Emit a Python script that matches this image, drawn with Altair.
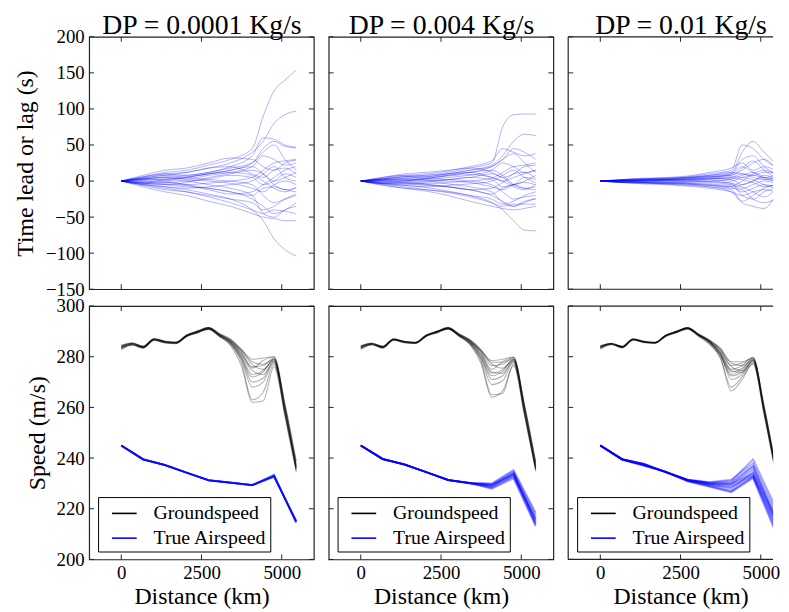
import altair as alt
import pandas as pd

# ---------------- data ----------------
TITLES = ["DP = 0.0001 Kg/s", "DP = 0.004 Kg/s", "DP = 0.01 Kg/s"]
LEGEND_LABELS = ["Groundspeed", "True Airspeed"]
X_TICKS = [0, 2500, 5000]
LAG_TICKS = [-150, -100, -50, 0, 50, 100, 150, 200]
SPEED_TICKS = [200, 220, 240, 260, 280, 300]

LAG_DIST = [0, 680, 1360, 2040, 2720, 3400, 4080, 4420, 4760, 5100, 5450]
GS_DIST = [0, 340, 680, 1020, 1360, 1700, 2040, 2380, 2720, 3060, 3400, 3740, 4080, 4420, 4760, 5100, 5450]
TAS_DIST = [0, 680, 1360, 2040, 2720, 3400, 4080, 4760, 5450]

# time lead / lag (s), one list per ensemble member
LAG_0001 = [
    [0, 6, 12, 15, 22, 30, 45, 90, 125, 140, 154],
    [0, 4, 8, 12, 18, 25, 40, 55, 80, 92, 97],
    [0, 3, 6, 8, 12, 20, 35, 60, 58, 50, 47],
    [0, -2, 2, 5, 10, 15, 25, 45, 55, 48, 46],
    [0, 8, 15, 18, 25, 32, 30, 20, 15, 25, 29],
    [0, 2, 5, 3, 8, 12, 20, 35, 30, 22, 25],
    [0, -3, -5, -2, 5, 10, 15, 10, 0, 5, 12],
    [0, 5, 10, 12, 18, 20, 10, 5, 15, 18, 10],
    [0, 0, -2, 0, 3, 8, 5, -5, 0, 10, 5],
    [0, -5, -8, -10, -8, -5, 0, 10, 20, 5, 0],
    [0, 3, 5, 2, 0, -3, -10, -15, -5, 0, -5],
    [0, -2, 0, 5, 10, 15, 20, 10, -5, -12, -10],
    [0, 2, 0, -5, -10, -15, -20, -10, -8, -12, -15],
    [0, -6, -12, -15, -20, -25, -30, -40, -35, -25, -18],
    [0, 4, 8, 5, 2, 0, -5, -20, -30, -25, -20],
    [0, -3, -5, -8, -10, -15, -25, -35, -45, -40, -30],
    [0, -5, -10, -15, -22, -30, -40, -45, -40, -42, -45],
    [0, -8, -15, -20, -28, -35, -45, -50, -52, -55, -55],
    [0, -4, -8, -12, -18, -25, -40, -55, -80, -95, -104],
    [0, 6, 10, 8, 12, 18, 25, 40, 50, 30, 15],
    [0, -4, -2, -5, -3, 0, 5, 15, 25, 28, 30],
    [0, 3, 2, 0, -5, -10, -20, -45, -50, -40, -35],
    [0, 1, 3, 6, 10, 12, 8, 0, -10, -15, -8],
    [0, -1, -4, -6, -12, -18, -15, -5, 5, 15, 20],
]
LAG_004 = [
    [0, 3, 6, 8, 12, 18, 25, 75, 92, 93, 93],
    [0, 2, 4, 6, 10, 15, 22, 35, 55, 65, 63],
    [0, 4, 8, 10, 14, 20, 28, 45, 40, 35, 38],
    [0, -2, 0, 3, 8, 12, 20, 30, 45, 40, 30],
    [0, 5, 10, 12, 15, 18, 12, 5, 10, 20, 22],
    [0, 1, 3, 2, 5, 8, 15, 25, 20, 12, 15],
    [0, -3, -4, -2, 2, 5, 10, 5, -5, 0, 8],
    [0, 3, 6, 8, 10, 12, 5, 0, 10, 12, 4],
    [0, 0, -2, 0, 2, 5, 2, -8, -5, 5, 2],
    [0, -4, -6, -8, -6, -4, 0, 8, 15, 5, -2],
    [0, 2, 3, 1, 0, -2, -8, -12, -5, -2, -5],
    [0, -1, 0, 4, 8, 12, 15, 8, -5, -10, -8],
    [0, 1, 0, -4, -8, -12, -18, -10, -5, -10, -12],
    [0, -5, -10, -12, -15, -20, -25, -32, -28, -20, -15],
    [0, 3, 6, 4, 2, 0, -5, -15, -25, -22, -20],
    [0, -3, -4, -6, -8, -12, -20, -28, -35, -30, -24],
    [0, -4, -8, -12, -16, -22, -30, -35, -32, -32, -32],
    [0, -6, -10, -14, -20, -28, -35, -38, -40, -38, -35],
    [0, -3, -6, -9, -14, -20, -30, -40, -55, -68, -69],
    [0, 5, 8, 6, 10, 15, 20, 30, 38, 25, 12],
    [0, -3, -2, -4, -2, 0, 4, 12, 20, 22, 25],
    [0, 2, 1, 0, -4, -8, -15, -30, -35, -28, -25],
    [0, 1, 2, 4, 7, 9, 5, 0, -8, -12, -4],
    [0, -1, -3, -5, -8, -12, -10, -2, 5, 10, 15],
]
LAG_01 = [
    [0, 2, 3, 4, 6, 10, 15, 50, 45, 30, 20],
    [0, 1, 2, 3, 5, 8, 12, 40, 55, 40, 25],
    [0, -1, 0, 1, 3, 5, 10, 30, 35, 20, 10],
    [0, 2, 4, 5, 7, 12, 18, 25, 15, 20, 15],
    [0, 0, 1, 2, 4, 6, 8, 15, 25, 30, 18],
    [0, -2, -3, -2, 0, 3, 5, 10, 5, 2, 5],
    [0, 1, 2, 2, 3, 4, 2, -5, 0, 8, 3],
    [0, -1, -2, -3, -2, 0, 3, 8, 12, 5, 0],
    [0, 1, 1, 0, -1, -2, -5, -10, -5, 0, -3],
    [0, -2, -3, -4, -5, -6, -8, -15, -10, -5, -8],
    [0, 2, 3, 2, 1, 0, -3, -20, -25, -15, -10],
    [0, -1, -2, -4, -6, -8, -12, -28, -20, -10, -5],
    [0, 0, -1, -2, -4, -8, -15, -30, -35, -38, -20],
    [0, -2, -4, -5, -7, -10, -15, -20, -15, -12, -15],
    [0, 1, 0, -1, -3, -5, -8, -5, 0, 5, 2],
    [0, -1, -1, 0, 2, 4, 6, 5, 2, -5, -10],
    [0, 1, 2, 3, 4, 7, 10, 20, 12, 5, 8],
    [0, -1, -2, -3, -4, -6, -10, -12, -25, -30, -25],
    [0, 2, 3, 4, 5, 8, 12, 10, 8, 12, 12],
    [0, -2, -2, -3, -3, -4, -6, 0, 10, 15, 10],
    [0, 1, 1, 2, 2, 3, 4, 2, -2, -8, -5],
    [0, 0, 1, 1, 0, -1, -3, -8, -15, -22, -12],
    [0, -1, 0, 1, 2, 2, 0, 5, 8, 3, 0],
    [0, 1, 2, 3, 5, 6, 8, 18, 28, 15, 5],
]

# groundspeed (m/s)
GS_0001 = [
    [283.2, 284.6, 283.5, 286.5, 285.6, 285.2, 288.0, 289.5, 291.0, 288.2, 285.5, 280.5, 273.0, 274.5, 278.5, 258.5, 236.0],
    [284.2, 285.3, 284.0, 287.2, 286.0, 285.8, 288.6, 290.2, 291.6, 289.0, 286.5, 282.0, 276.0, 276.5, 279.5, 260.0, 237.5],
    [283.0, 284.8, 283.6, 286.6, 285.5, 285.3, 288.2, 289.6, 290.8, 288.0, 285.0, 278.0, 263.0, 266.0, 277.0, 257.0, 235.0],
    [284.5, 285.5, 284.2, 287.0, 286.2, 285.6, 288.5, 290.0, 291.5, 289.2, 287.0, 283.0, 278.0, 277.0, 279.0, 261.0, 238.5],
    [283.5, 284.9, 283.7, 286.9, 285.7, 285.4, 288.1, 289.7, 291.3, 288.6, 285.8, 280.0, 270.0, 271.5, 278.0, 258.0, 236.5],
    [283.8, 285.1, 283.9, 286.7, 285.9, 285.6, 288.4, 289.9, 291.1, 288.4, 286.0, 281.5, 275.5, 278.5, 280.0, 259.5, 235.5],
    [282.8, 284.5, 283.3, 286.4, 285.4, 285.1, 288.0, 289.4, 290.9, 288.0, 284.5, 276.5, 262.0, 262.5, 276.0, 256.5, 234.5],
    [284.0, 285.2, 284.1, 287.1, 286.1, 285.7, 288.5, 290.1, 291.4, 288.8, 286.3, 282.5, 277.0, 275.0, 278.8, 260.5, 237.0],
    [283.6, 285.0, 283.8, 286.8, 285.8, 285.5, 288.3, 289.8, 291.2, 288.5, 285.7, 279.5, 272.0, 274.0, 279.2, 258.8, 236.2],
    [283.4, 284.7, 283.6, 286.6, 285.6, 285.3, 288.2, 289.6, 291.0, 288.3, 285.2, 279.0, 268.0, 270.0, 277.5, 257.5, 235.8],
    [284.3, 285.4, 284.1, 287.0, 286.0, 285.7, 288.6, 290.0, 291.5, 288.9, 286.8, 282.8, 279.0, 279.5, 280.0, 261.5, 239.0],
    [283.9, 285.1, 283.9, 286.9, 285.9, 285.5, 288.4, 289.9, 291.3, 288.7, 286.1, 281.0, 274.5, 273.0, 278.2, 259.2, 236.8],
]
GS_004 = [
    [283.3, 284.8, 283.6, 286.7, 285.7, 285.4, 288.2, 289.7, 291.2, 288.4, 285.6, 280.8, 273.5, 274.8, 278.6, 258.6, 236.2],
    [284.0, 285.2, 284.0, 287.1, 286.0, 285.7, 288.5, 290.1, 291.6, 288.9, 286.4, 282.2, 276.5, 277.0, 279.6, 260.2, 237.8],
    [283.1, 284.7, 283.5, 286.5, 285.5, 285.2, 288.1, 289.5, 290.9, 288.1, 285.1, 278.5, 265.0, 265.5, 277.2, 257.2, 235.2],
    [284.3, 285.4, 284.1, 287.0, 286.1, 285.6, 288.5, 290.0, 291.4, 289.1, 286.8, 283.0, 277.8, 277.8, 279.2, 260.8, 238.2],
    [283.6, 285.0, 283.8, 286.8, 285.8, 285.5, 288.3, 289.8, 291.3, 288.6, 285.9, 280.2, 271.0, 272.5, 278.2, 258.2, 236.4],
    [283.8, 285.1, 283.9, 286.8, 285.9, 285.6, 288.4, 289.9, 291.1, 288.5, 286.1, 281.8, 275.0, 278.0, 279.8, 259.6, 235.6],
    [282.9, 284.6, 283.4, 286.5, 285.5, 285.2, 288.0, 289.5, 291.0, 288.1, 284.8, 277.5, 264.0, 266.5, 276.5, 256.8, 234.8],
    [284.1, 285.2, 284.0, 287.0, 286.0, 285.6, 288.5, 290.0, 291.4, 288.8, 286.2, 282.4, 277.2, 275.5, 278.9, 260.4, 237.2],
    [283.5, 284.9, 283.7, 286.7, 285.7, 285.4, 288.3, 289.8, 291.2, 288.5, 285.6, 279.8, 272.5, 274.2, 279.0, 258.9, 236.0],
    [283.4, 284.8, 283.6, 286.6, 285.6, 285.3, 288.2, 289.6, 291.0, 288.3, 285.3, 279.2, 269.0, 270.5, 277.8, 257.6, 235.5],
    [284.2, 285.3, 284.1, 286.9, 286.0, 285.7, 288.6, 290.0, 291.5, 288.9, 286.6, 282.6, 278.5, 279.0, 279.9, 261.2, 238.6],
    [283.9, 285.1, 283.9, 286.9, 285.9, 285.5, 288.4, 289.9, 291.3, 288.7, 286.0, 281.2, 274.0, 273.5, 278.4, 259.0, 236.6],
]
GS_01 = [
    [283.4, 284.9, 283.7, 286.7, 285.7, 285.4, 288.2, 289.7, 291.2, 288.5, 285.8, 281.0, 274.0, 275.5, 278.8, 258.8, 236.2],
    [284.0, 285.2, 284.0, 287.0, 286.0, 285.6, 288.5, 290.0, 291.5, 288.8, 286.3, 282.5, 276.5, 277.5, 279.6, 260.0, 237.0],
    [283.2, 284.8, 283.6, 286.6, 285.6, 285.3, 288.1, 289.6, 291.0, 288.2, 285.2, 279.5, 266.5, 271.0, 277.5, 257.8, 235.0],
    [284.2, 285.3, 284.1, 287.1, 286.1, 285.7, 288.5, 290.1, 291.4, 289.0, 286.6, 283.0, 277.5, 276.5, 279.2, 260.5, 237.5],
    [283.6, 285.0, 283.8, 286.8, 285.8, 285.5, 288.3, 289.8, 291.3, 288.6, 285.9, 280.5, 272.5, 274.0, 278.2, 258.5, 236.0],
    [283.8, 285.1, 283.9, 286.8, 285.9, 285.5, 288.4, 289.9, 291.2, 288.5, 286.0, 281.8, 275.0, 276.5, 279.8, 259.5, 235.5],
    [283.0, 284.7, 283.5, 286.5, 285.5, 285.2, 288.0, 289.5, 290.9, 288.1, 284.9, 279.8, 268.0, 272.0, 277.0, 257.2, 234.5],
    [284.1, 285.2, 284.0, 286.9, 286.0, 285.6, 288.4, 290.0, 291.4, 288.8, 286.2, 282.8, 276.0, 274.5, 278.5, 260.2, 236.8],
    [283.5, 284.9, 283.7, 286.7, 285.7, 285.4, 288.2, 289.7, 291.1, 288.4, 285.6, 280.8, 273.0, 275.0, 279.0, 259.0, 236.4],
    [283.7, 285.0, 283.8, 286.8, 285.8, 285.5, 288.3, 289.8, 291.3, 288.6, 285.8, 281.4, 271.0, 273.0, 277.8, 258.0, 235.8],
    [284.3, 285.3, 284.1, 287.0, 286.1, 285.7, 288.6, 290.1, 291.5, 289.0, 286.5, 283.5, 278.0, 278.0, 279.5, 261.0, 237.8],
    [283.9, 285.1, 283.9, 286.9, 285.9, 285.5, 288.4, 289.9, 291.3, 288.7, 286.1, 281.5, 274.5, 273.8, 278.6, 259.2, 236.6],
]

# true airspeed (m/s)
TAS_0001 = [
    [245.0, 239.5, 237.2, 234.2, 231.3, 230.3, 229.3, 232.9, 215.0],
    [245.0, 239.5, 237.3, 234.3, 231.2, 230.2, 229.2, 233.2, 214.6],
    [245.0, 239.6, 237.2, 234.2, 231.3, 230.4, 229.4, 232.6, 215.3],
    [245.0, 239.5, 237.3, 234.2, 231.2, 230.3, 229.3, 233.4, 214.4],
    [245.0, 239.4, 237.2, 234.1, 231.3, 230.3, 229.2, 232.8, 215.1],
    [245.0, 239.5, 237.2, 234.2, 231.2, 230.2, 229.4, 233.0, 214.8],
    [245.0, 239.5, 237.3, 234.3, 231.3, 230.3, 229.3, 232.7, 215.2],
    [245.0, 239.5, 237.2, 234.2, 231.2, 230.3, 229.3, 233.1, 214.7],
]
TAS_004 = [
    [245.0, 239.6, 237.4, 234.4, 231.3, 230.1, 229.5, 233.5, 215.5],
    [245.0, 239.7, 237.5, 234.5, 231.4, 230.2, 229.0, 234.0, 216.5],
    [245.0, 239.6, 237.5, 234.4, 231.3, 230.0, 228.5, 233.0, 214.5],
    [245.0, 239.7, 237.4, 234.5, 231.4, 230.2, 229.8, 234.8, 217.5],
    [245.0, 239.6, 237.5, 234.4, 231.3, 230.1, 228.2, 232.5, 213.5],
    [245.0, 239.7, 237.5, 234.5, 231.4, 230.0, 229.2, 233.8, 215.0],
    [245.0, 239.6, 237.4, 234.4, 231.3, 230.1, 227.9, 232.0, 213.0],
    [245.0, 239.7, 237.5, 234.5, 231.4, 230.2, 230.0, 235.3, 218.5],
    [245.0, 239.6, 237.4, 234.4, 231.3, 230.1, 228.8, 233.2, 216.0],
    [245.0, 239.7, 237.5, 234.5, 231.4, 230.0, 229.4, 234.3, 214.0],
]
TAS_01 = [
    [245.0, 239.5, 237.5, 234.6, 231.3, 229.8, 229.0, 233.5, 215.0],
    [245.0, 239.6, 237.8, 234.4, 231.5, 230.4, 231.0, 239.5, 221.0],
    [245.0, 239.4, 236.9, 234.5, 230.8, 228.6, 226.5, 232.0, 211.0],
    [245.0, 239.5, 237.3, 234.7, 231.2, 229.5, 228.0, 234.5, 216.5],
    [245.0, 239.6, 237.6, 234.3, 231.4, 230.2, 230.0, 236.5, 218.0],
    [245.0, 239.5, 237.1, 234.5, 231.0, 229.0, 227.2, 232.8, 213.0],
    [245.0, 239.4, 237.4, 234.6, 231.3, 229.7, 229.5, 235.5, 217.0],
    [245.0, 239.5, 237.7, 234.4, 231.5, 230.5, 231.5, 238.0, 219.5],
    [245.0, 239.6, 237.2, 234.5, 231.1, 229.3, 228.5, 233.0, 214.0],
    [245.0, 239.5, 237.5, 234.6, 231.3, 229.9, 229.8, 234.0, 215.5],
    [245.0, 239.4, 237.0, 234.5, 230.9, 228.9, 226.8, 232.5, 212.0],
    [245.0, 239.5, 237.6, 234.4, 231.4, 230.1, 230.5, 237.0, 216.0],
]

LAGS = [LAG_0001, LAG_004, LAG_01]
GSS = [GS_0001, GS_004, GS_01]
TASS = [TAS_0001, TAS_004, TAS_01]

# ---------------- style ----------------
FONT = "Liberation Serif"
BLUE = "#0000ff"
FRAME = "#222222"
W, H_TOP, H_BOT = 227, 255, 256
X_MIN, X_MAX = -1000, 6000
W_LAST = 207   # the right-hand column runs off the page edge, as in the original
TICK = 5


def panel_width(i):
    return W if i < 2 else W_LAST


def x_scale_for(i):
    right = X_MIN + (X_MAX - X_MIN) * panel_width(i) / W
    return alt.Scale(domain=[X_MIN, right], nice=False, zero=False)


def lines_df(dist, members, prefix, series=""):
    rows = []
    for k, vals in enumerate(members):
        for d, v in zip(dist, vals):
            rows.append({"dist": d, "val": v, "run": f"{prefix}{k}", "series": series})
    return pd.DataFrame(rows)


def decor_layers(i, xenc, yenc, y_vals, h):
    """Inward ticks on the panel sides (and the open frame of the cut-off column)."""
    w = panel_width(i)
    last = i == 2
    xt = alt.Chart(pd.DataFrame({"dist": X_TICKS}))
    yt = alt.Chart(pd.DataFrame({"val": y_vals}))
    rule = dict(color=FRAME, strokeWidth=1)
    out = [
        xt.mark_rule(**rule).encode(x=xenc, y=alt.value(h), y2=alt.value(h - TICK)),
        xt.mark_rule(**rule).encode(x=xenc, y=alt.value(0), y2=alt.value(TICK)),
        yt.mark_rule(**rule).encode(y=yenc, x=alt.value(0), x2=alt.value(TICK)),
    ]
    if not last:
        out.append(yt.mark_rule(**rule).encode(y=yenc, x=alt.value(w), x2=alt.value(w - TICK)))
    else:
        edge = alt.Chart(pd.DataFrame({"e": [0]}))
        fr = dict(color=FRAME, strokeWidth=1.2)
        out += [
            edge.mark_rule(**fr).encode(x=alt.value(0), y=alt.value(0), y2=alt.value(h)),
            edge.mark_rule(**fr).encode(x=alt.value(0), x2=alt.value(w), y=alt.value(0)),
            edge.mark_rule(**fr).encode(x=alt.value(0), x2=alt.value(w), y=alt.value(h)),
        ]
    return out


def finish(i, layer, h):
    props = dict(width=panel_width(i), height=h)
    if i == 2:
        props["view"] = alt.ViewBackground(stroke="transparent")
    return layer.properties(**props)


def top_panel(i):
    y_scale = alt.Scale(domain=[-150, 200], nice=False, zero=False)
    # panel title carried by a label-less top axis
    xaxis = alt.Axis(orient="top", labels=False, ticks=False, domain=False, grid=False,
                     title=TITLES[i], titleFontSize=28, titlePadding=3,
                     titleBaseline="alphabetic", titleX=W / 2)
    if i == 0:
        yaxis = alt.Axis(values=LAG_TICKS, format="d", ticks=False, domain=False,
                         grid=False, labelPadding=5, title="Time lead or lag (s)",
                         titleX=-64, titleBaseline="middle")
    else:
        yaxis = alt.Axis(labels=False, ticks=False, domain=False, grid=False, title=None)
    xenc = alt.X("dist:Q", scale=x_scale_for(i), axis=xaxis)
    yenc = alt.Y("val:Q", scale=y_scale, axis=yaxis)
    lines = alt.Chart(lines_df(LAG_DIST, LAGS[i], "m")).mark_line(
        color=BLUE, opacity=0.3, strokeWidth=1, interpolate="monotone", clip=True
    ).encode(x=xenc, y=yenc, detail="run:N")
    return finish(i, alt.layer(lines, *decor_layers(i, xenc, yenc, LAG_TICKS, H_TOP)), H_TOP)


def bottom_panel(i):
    y_scale = alt.Scale(domain=[200, 300], nice=False, zero=False)
    xaxis = alt.Axis(values=X_TICKS, format="d", ticks=False, domain=False, grid=False,
                     labelPadding=4, title="Distance (km)", titleX=W / 2, titleY=45,
                     titleBaseline="alphabetic")
    if i == 0:
        yaxis = alt.Axis(values=SPEED_TICKS, format="d", ticks=False, domain=False,
                         grid=False, labelPadding=5, title="Speed (m/s)",
                         titleX=-52, titleBaseline="middle")
    else:
        yaxis = alt.Axis(labels=False, ticks=False, domain=False, grid=False, title=None)
    xenc = alt.X("dist:Q", scale=x_scale_for(i), axis=xaxis)
    yenc = alt.Y("val:Q", scale=y_scale, axis=yaxis)
    color = alt.Color(
        "series:N",
        scale=alt.Scale(domain=LEGEND_LABELS, range=["black", BLUE]),
        legend=alt.Legend(
            orient="none", legendX=9, legendY=193, title=None, fillColor="white",
            strokeColor="black", padding=3, labelFont=FONT, labelFontSize=20,
            labelColor="black", symbolType="stroke", symbolSize=625,
            symbolStrokeWidth=1.6, symbolOpacity=1, symbolOffset=10,
            labelOffset=16, rowPadding=1, cornerRadius=0,
        ),
    )
    gs = alt.Chart(lines_df(GS_DIST, GSS[i], "g", LEGEND_LABELS[0])).mark_line(
        opacity=0.3, strokeWidth=1.1, interpolate="monotone", clip=True
    ).encode(x=xenc, y=yenc, color=color, detail="run:N")
    tas = alt.Chart(lines_df(TAS_DIST, TASS[i], "t", LEGEND_LABELS[1])).mark_line(
        opacity=0.35, strokeWidth=1.8, clip=True
    ).encode(x=xenc, y=yenc, color=color, detail="run:N")
    return finish(i, alt.layer(gs, tas, *decor_layers(i, xenc, yenc, SPEED_TICKS, H_BOT)), H_BOT)


panels = [top_panel(i) for i in range(3)] + [bottom_panel(i) for i in range(3)]

chart = alt.concat(
    *panels, columns=3, spacing={"row": 17, "column": 15}, bounds="flush"
).resolve_scale(
    color="independent"
).resolve_legend(
    color="independent"
).properties(
    padding={"left": 5, "top": 0, "right": 0, "bottom": 0}
).configure_view(
    stroke=FRAME, strokeWidth=1.2
).configure_axis(
    labelFont=FONT, labelFontSize=19, labelColor="black",
    titleFont=FONT, titleFontSize=24, titleFontWeight="normal", titleColor="black",
)

chart.save("out.html", embed_options={"renderer": "svg", "actions": False})
